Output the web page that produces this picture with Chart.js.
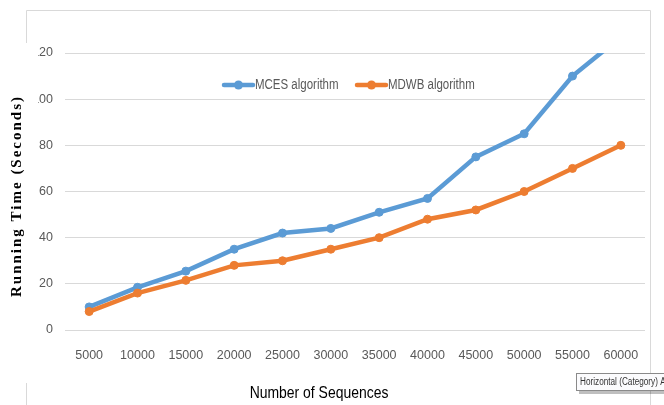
<!DOCTYPE html>
<html><head><meta charset="utf-8">
<script src="https://cdn.jsdelivr.net/npm/chart.js@4/dist/chart.umd.min.js"></script>
<style>html,body{margin:0;padding:0;background:#fff;overflow:hidden}canvas{display:block}</style>
</head><body>
<canvas id="c" width="664" height="405"></canvas>
<script>
const categories = ['5000','10000','15000','20000','25000','30000','35000','40000','45000','50000','55000','60000'];
const mcesTimes = [10, 18.5, 25.5, 35, 42, 44, 51, 57, 75, 85, 110, 127];
const mdwbTimes = [8, 16, 21.5, 28, 30, 35, 40, 48, 52, 60, 70, 80];
const seriesNames = ['MCES algorithm', 'MDWB algorithm'];
const seriesColors = ['#5B9BD5', '#ED7D31'];
const xTitle = 'Number of Sequences';
const yTitle = 'Running Time (Seconds)';
const hintText = 'Horizontal (Category) Axis';

const FONT = "'Liberation Sans', Arial, sans-serif";
const NARROW = 0.82;

function narrowText(ctx, text, x, y, size, color, align) {
  ctx.save();
  ctx.font = size + 'px ' + FONT;
  ctx.fillStyle = color;
  ctx.textAlign = align || 'left';
  ctx.textBaseline = 'middle';
  ctx.translate(x, y);
  ctx.scale(NARROW, 1);
  ctx.fillText(text, 0, 0);
  ctx.restore();
}

const framePlugin = {
  id: 'frame',
  beforeDraw(chart) {
    const ctx = chart.ctx;
    ctx.save();
    ctx.fillStyle = '#fff';
    ctx.fillRect(0, 0, chart.width, chart.height);
    ctx.strokeStyle = '#d9d9d9';
    ctx.lineWidth = 1;
    ctx.beginPath();
    ctx.moveTo(26.5, 405); ctx.lineTo(26.5, 10.5); ctx.lineTo(650.5, 10.5); ctx.lineTo(650.5, 405);
    ctx.stroke();
    ctx.restore();
  },
  afterDraw(chart) {
    const ctx = chart.ctx;
    // y-axis title box (covers the left part of the frame and tick labels)
    ctx.save();
    ctx.fillStyle = '#fff';
    ctx.fillRect(0, 43, 38, 340);
    ctx.translate(17, 197);
    ctx.rotate(-Math.PI / 2);
    ctx.font = "bold 15px 'Liberation Serif', serif";
    ctx.letterSpacing = '2px';
    ctx.fillStyle = '#000';
    ctx.textAlign = 'center';
    ctx.textBaseline = 'middle';
    ctx.fillText(yTitle, 1, 0);
    ctx.restore();

    // x-axis title
    narrowText(ctx, xTitle, 319, 393, 17, '#000', 'center');

    // legend
    const lx = [224, 357];
    chart.data.datasets.forEach((ds, i) => {
      const x0 = lx[i], y0 = 85;
      ctx.save();
      ctx.strokeStyle = ds.borderColor;
      ctx.lineWidth = 4.5;
      ctx.lineCap = 'round';
      ctx.beginPath(); ctx.moveTo(x0, y0); ctx.lineTo(x0 + 29, y0); ctx.stroke();
      ctx.fillStyle = ds.borderColor;
      ctx.beginPath(); ctx.arc(x0 + 14.5, y0, 4.5, 0, Math.PI * 2); ctx.fill();
      ctx.restore();
      narrowText(ctx, ds.label, x0 + 31, y0, 14, '#595959', 'left');
    });

    // hover hint box
    ctx.save();
    ctx.fillStyle = 'rgba(0,0,0,0.25)';
    ctx.fillRect(579, 376, 90, 18);
    ctx.fillStyle = '#fbfbfd';
    ctx.fillRect(576, 373, 92, 18);
    ctx.strokeStyle = '#8a8a8a';
    ctx.lineWidth = 1;
    ctx.strokeRect(576.5, 373.5, 92, 17);
    ctx.restore();
    narrowText(ctx, hintText, 580, 382.5, 10, '#333', 'left');
  }
};

const yAfterFit = s => { s.width = 65; };
const xAfterFit = s => { s.height = 75; };

new Chart(document.getElementById('c'), {
  type: 'line',
  data: {
    labels: categories,
    datasets: [
      { label: seriesNames[0], data: mcesTimes, borderColor: seriesColors[0], backgroundColor: seriesColors[0],
        borderWidth: 4.5, pointRadius: 4, pointBorderWidth: 1, pointBackgroundColor: seriesColors[0], pointBorderColor: seriesColors[0],
        tension: 0, clip: 0, order: 2 },
      { label: seriesNames[1], data: mdwbTimes, borderColor: seriesColors[1], backgroundColor: seriesColors[1],
        borderWidth: 4.5, pointRadius: 4, pointBorderWidth: 1, pointBackgroundColor: seriesColors[1], pointBorderColor: seriesColors[1],
        tension: 0, clip: 0, order: 1 }
    ]
  },
  options: {
    responsive: false,
    animation: false,
    devicePixelRatio: 1,
    layout: { padding: { top: 53, right: 19, left: 0, bottom: 0 } },
    plugins: { legend: { display: false }, tooltip: { enabled: false } },
    scales: {
      x: {
        type: 'category',
        offset: true,
        grid: { display: false, drawTicks: false },
        border: { display: false },
        ticks: { color: '#595959', font: { family: FONT, size: 12.5 }, padding: 18, maxRotation: 0, autoSkip: false },
        afterFit: xAfterFit
      },
      y: {
        min: 0, max: 120,
        grid: { color: '#d9d9d9', lineWidth: 1, drawTicks: false },
        border: { display: false },
        ticks: { stepSize: 20, color: '#595959', font: { family: FONT, size: 12.5 }, padding: 12 },
        afterFit: yAfterFit
      }
    }
  },
  plugins: [framePlugin]
});
</script>
</body></html>
